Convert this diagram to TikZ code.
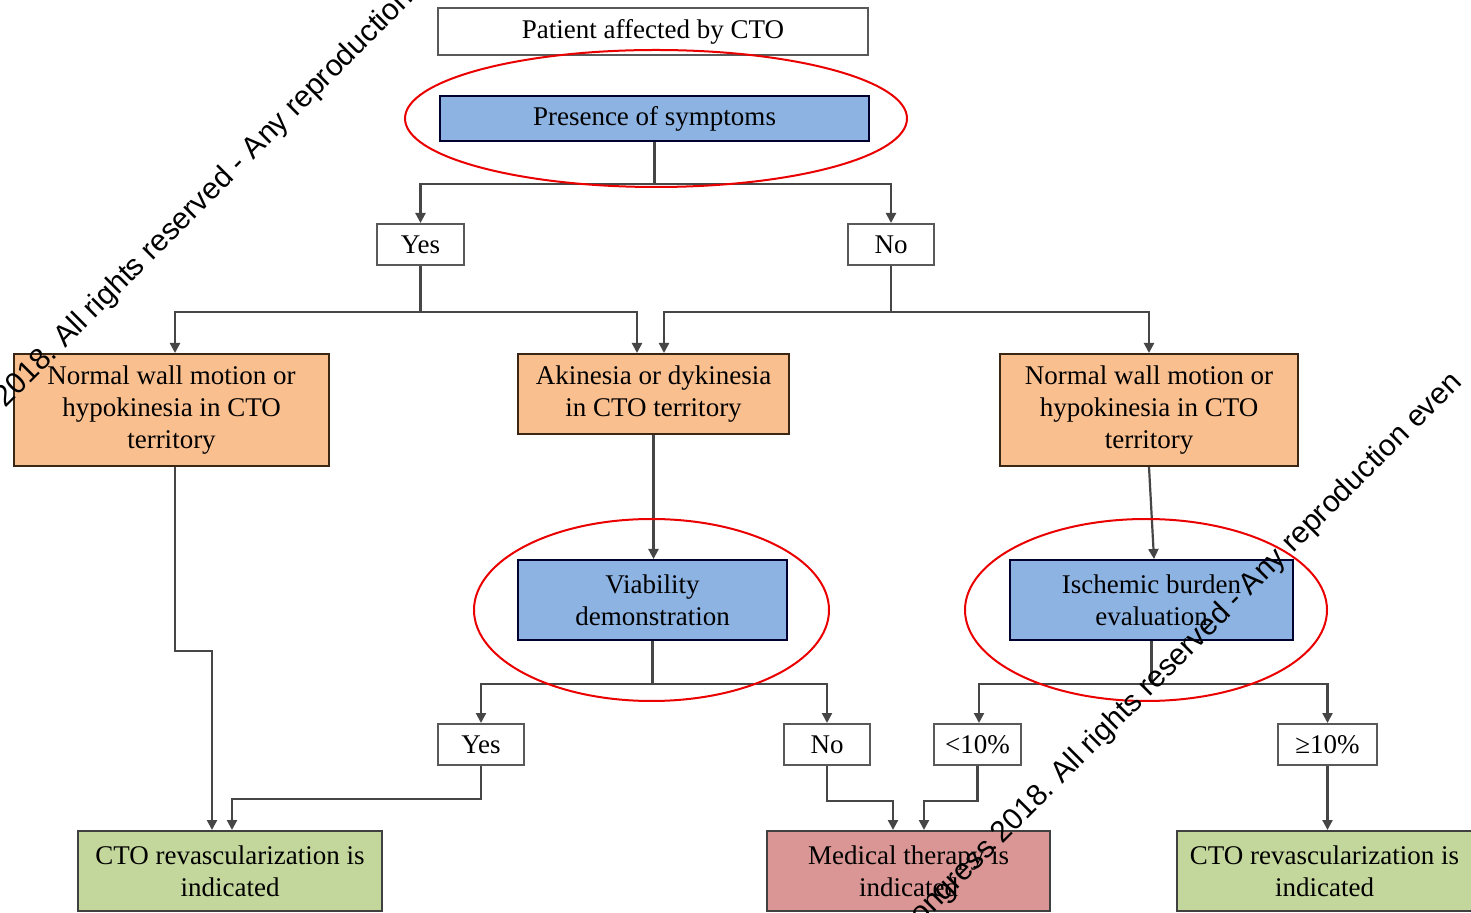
\documentclass[tikz,border=0pt]{standalone}
\usepackage{fontspec}
\setmainfont{Liberation Serif}
\newfontfamily\wmfont{Liberation Sans}
\usetikzlibrary{arrows.meta}
\definecolor{bluef}{RGB}{141,179,226}
\definecolor{orangef}{RGB}{250,191,143}
\definecolor{greenf}{RGB}{195,214,155}
\definecolor{redf}{RGB}{217,150,148}
\definecolor{ringred}{RGB}{235,0,0}
\definecolor{linec}{RGB}{70,70,70}
\begin{document}
\begin{tikzpicture}[x=0.5pt,y=-0.5pt,
  box/.style={draw=black!75, line width=1pt, align=center, inner sep=0pt,
    font=\fontsize{13.5}{16}\selectfont, text=black},
  wbox/.style={box, fill=white, draw=black!65},
  bbox/.style={box, fill=bluef, draw=black!70!blue!60!black},
  obox/.style={box, fill=orangef, draw=black!70!brown},
  gbox/.style={box, fill=greenf, draw=black!75},
  rbox/.style={box, fill=redf, draw=black!75},
  conn/.style={draw=linec, line width=1.1pt},
  arr/.style={conn, -{Triangle[length=5pt,width=5pt]}},
  ring/.style={draw=ringred, line width=1pt},
  wm/.style={font=\wmfont\fontsize{15}{18}\selectfont, text=black, rotate=45, inner sep=0pt}
]
\useasboundingbox (0,0) rectangle (1471,913);
\fill[white] (0,0) rectangle (1471,913);

% boxes
\node[wbox, minimum width=215pt, minimum height=23.5pt] (pat) at (653,31.5) {Patient affected by CTO};
\node[bbox, minimum width=214.5pt, minimum height=22.5pt] (pres) at (654.5,118.5) {Presence of symptoms};
\node[wbox, minimum width=43.5pt, minimum height=20.5pt] (yes1) at (420.5,244.5) {Yes};
\node[wbox, minimum width=43pt, minimum height=20.5pt] (no1) at (891,244.5) {No};
\node[obox, minimum width=157.5pt, minimum height=56pt] (L) at (171.5,410) {Normal wall motion or\\hypokinesia in CTO\\territory};
\node[obox, minimum width=135.5pt, minimum height=40pt] (M) at (653.5,394) {Akinesia or dykinesia\\in CTO territory};
\node[obox, minimum width=149pt, minimum height=56pt] (R) at (1149,410) {Normal wall motion or\\hypokinesia in CTO\\territory};
\node[bbox, minimum width=134.5pt, minimum height=40pt] (via) at (652.5,600) {Viability\\demonstration};
\node[bbox, minimum width=141.5pt, minimum height=40pt] (isch) at (1151.5,600) {Ischemic burden\\evaluation};
\node[wbox, minimum width=43pt, minimum height=20.5pt] (yes2) at (481,744.5) {Yes};
\node[wbox, minimum width=43pt, minimum height=20.5pt] (no2) at (827,744.5) {No};
\node[wbox, minimum width=43.5pt, minimum height=20.5pt] (lt) at (977.5,744.5) {<10\%};
\node[wbox, minimum width=49.5pt, minimum height=20.5pt] (ge) at (1327.5,744.5) {≥10\%};
\node[gbox, minimum width=152pt, minimum height=40pt] (gL) at (230,871) {CTO revascularization is\\indicated};
\node[rbox, minimum width=141.5pt, minimum height=40pt] (red) at (908.5,871) {Medical therapy is\\indicated};
\node[gbox, minimum width=147.5pt, minimum height=40pt] (gR) at (1324.5,871) {CTO revascularization is\\indicated};

% connectors
\draw[conn] (pres.south) -- ++(0,42) coordinate (j1);
\draw[arr] (j1) -| (yes1.north);
\draw[arr] (j1) -| (no1.north);
\draw[arr] (yes1.south) -- ++(0,46) -| ([xshift=1.75pt]L.north);
\draw[arr] (yes1.south) -- ++(0,46) -| ([xshift=-8.25pt]M.north);
\draw[arr] (no1.south) -- ++(0,46) -| ([xshift=5.25pt]M.north);
\draw[arr] (no1.south) -- ++(0,46) -| (R.north);
\draw[arr] (M.south) -- (M.south |- via.north);
\draw[arr] (R.south) -- ([xshift=1.25pt]isch.north);
\draw[conn] (via.south) -- ++(0,43) coordinate (j2);
\draw[arr] (j2) -| (yes2.north);
\draw[arr] (j2) -| (no2.north);
\draw[conn] (isch.south) -- ++(0,43) coordinate (j3);
\draw[arr] (j3) -| ([xshift=0.75pt]lt.north);
\draw[arr] (j3) -| (ge.north);
\draw[arr] ([xshift=1.75pt]L.south) -- ++(0,184) -| ([xshift=-9pt]gL.north);
\draw[arr] (yes2.south) -- ++(0,33) -| ([xshift=1pt]gL.north);
\draw[arr] (no2.south) -- ++(0,35) -| ([xshift=-7.75pt]red.north);
\draw[arr] (lt.south) -- ++(0,35) -| ([xshift=7.75pt]red.north);
\draw[arr] (ge.south) -- (ge.south |- gR.north);

% red rings
\draw[ring] (656,118.5) ellipse [x radius=125.5pt, y radius=34.25pt];
\draw[ring] (651.5,610) ellipse [x radius=88.75pt, y radius=45.5pt];
\draw[ring] (1146,610) ellipse [x radius=90.5pt, y radius=45.5pt];

% watermark lines
\begin{scope}
\clip (0,0) rectangle (1471,913);
\coordinate (w1) at (65,349);
\node[wm, anchor=base west] (wm1b) at (w1) {All rights reserved - Any reproduction even};
\node[wm, anchor=base east] (wm1a) at ([shift={(-5.9,5.9)}]w1) {Congress 2018.};
\coordinate (w2) at (1062,785);
\node[wm, anchor=base west] (wm2b) at (w2) {All rights reserved - Any reproduction even};
\node[wm, anchor=base east] (wm2a) at ([shift={(-5.9,5.9)}]w2) {Congress 2018.};
\end{scope}
\end{tikzpicture}
\end{document}
